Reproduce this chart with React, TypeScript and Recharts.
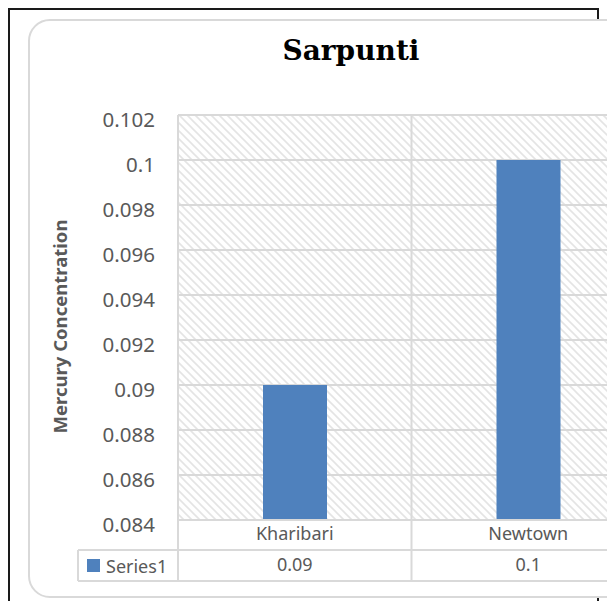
import { BarChart, Bar, XAxis, YAxis, CartesianGrid, Legend } from "recharts";

const categories = ["Kharibari", "Newtown"];
const series1 = [0.09, 0.1];
const yTicks = [0.084, 0.086, 0.088, 0.09, 0.092, 0.094, 0.096, 0.098, 0.1, 0.102];

const data = categories.map((name, i) => ({ name, Series1: series1[i] }));

const GRID = "#d9d9d9";
const TEXT = "#595959";
const BLUE = "#4f81bd";
const FONT = "'Noto Sans', sans-serif";

// layout, page pixels
const CHART_W = 700;
const CHART_H = 601;
const PLOT_LEFT = 178;
const PLOT_RIGHT = 645;
const PLOT_TOP = 115;
const PLOT_BOTTOM = 520;
const ROW1 = 30;
const ROW2 = 31;
const LEGEND_LEFT = 78;
const YAXIS_W = 60;

const fmtY = (v: number) => String(Number(v.toFixed(3)));

const YLabel = (props: any) => {
  const vb = props.viewBox || { x: PLOT_LEFT - YAXIS_W, y: PLOT_TOP, width: YAXIS_W, height: PLOT_BOTTOM - PLOT_TOP };
  const x = vb.x - 59;
  const y = vb.y + vb.height / 2 + 9;
  return (
    <text
      x={x}
      y={y}
      transform={`rotate(-90, ${x}, ${y})`}
      textAnchor="middle"
      dominantBaseline="central"
      fill={TEXT}
      fontFamily={FONT}
      fontWeight="bold"
      fontSize={18.5}
    >
      Mercury Concentration
    </text>
  );
};

const LegendCell = (props: any) => {
  const item = props.payload && props.payload[0];
  return (
    <div style={{ display: "flex", alignItems: "center", height: ROW2, paddingLeft: 9, fontFamily: FONT, fontSize: 18, color: TEXT }}>
      <span style={{ width: 13, height: 13, background: item ? item.color : BLUE, marginRight: 6 }} />
      <span>{item ? item.value : "Series1"}</span>
    </div>
  );
};

export default function App() {
  const catW = (PLOT_RIGHT - PLOT_LEFT) / categories.length;
  const tableBottom = PLOT_BOTTOM + ROW1 + ROW2;
  return (
    <div style={{ position: "absolute", left: 0, top: 0, width: 607, height: 601, overflow: "hidden", background: "#fff" }}>
      <div style={{ position: "absolute", left: 8, top: 8, width: 587, height: 640, border: "2px solid #1a1a1a" }} />
      <div
        style={{
          position: "absolute",
          left: 28,
          top: 19,
          width: 700,
          height: 575,
          border: `2px solid ${GRID}`,
          borderRadius: 22,
          background: "#fff",
        }}
      />
      <div style={{ position: "absolute", left: 0, top: 0 }}>
        <BarChart
          width={CHART_W}
          height={CHART_H}
          data={data}
          margin={{
            top: PLOT_TOP,
            right: CHART_W - PLOT_RIGHT,
            bottom: CHART_H - tableBottom,
            left: PLOT_LEFT - YAXIS_W,
          }}
        >
          <defs>
            <pattern id="hatch" patternUnits="userSpaceOnUse" width="8" height="8">
              <rect width="8" height="8" fill="#fff" />
              <path d="M-2,-2 L10,10 M-2,6 L2,10 M6,-2 L10,2" stroke="#e4e4e4" strokeWidth="1.6" />
            </pattern>
          </defs>
          <CartesianGrid
            fill="url(#hatch)"
            fillOpacity={1}
            stroke={GRID}
            strokeWidth={2}
            verticalCoordinatesGenerator={({ offset }: any) =>
              categories.map((_, i) => offset.left + (i * offset.width) / categories.length).concat(offset.left + offset.width)
            }
          />
          <XAxis
            xAxisId="cat"
            dataKey="name"
            height={ROW1}
            tickLine={false}
            tickSize={0}
            tickMargin={7}
            axisLine={{ stroke: GRID, strokeWidth: 2 }}
            tick={{ fill: TEXT, fontSize: 18, fontFamily: FONT }}
          />
          <XAxis
            xAxisId="val"
            dataKey="name"
            height={ROW2}
            tickLine={false}
            tickSize={0}
            tickMargin={8}
            axisLine={false}
            tickFormatter={(_: any, i: number) => String(series1[i])}
            tick={{ fill: TEXT, fontSize: 18, fontFamily: FONT }}
          />
          <YAxis
            width={YAXIS_W}
            domain={[yTicks[0], yTicks[yTicks.length - 1]]}
            ticks={yTicks}
            tickFormatter={fmtY}
            axisLine={false}
            tickLine={false}
            tickSize={0}
            tickMargin={23}
            interval={0}
            tick={{ fill: TEXT, fontSize: 20.5, fontFamily: FONT, dy: 5 }}
            label={YLabel}
          />
          <Legend
            layout="horizontal"
            verticalAlign="middle"
            align="center"
            content={LegendCell}
            wrapperStyle={{ position: "absolute", left: LEGEND_LEFT, top: PLOT_BOTTOM + ROW1, width: PLOT_LEFT - LEGEND_LEFT, height: ROW2 }}
          />
          <Bar xAxisId="cat" dataKey="Series1" fill={BLUE} barSize={64} isAnimationActive={false} />
        </BarChart>
      </div>
      <svg width={CHART_W} height={CHART_H} style={{ position: "absolute", left: 0, top: 0, pointerEvents: "none" }}>
        <text x={351} y={60} textAnchor="middle" fontFamily="'DejaVu Serif', serif" fontWeight="bold" fontSize={28} fill="#000">
          Sarpunti
        </text>
        <g stroke={GRID} strokeWidth={2}>
          <line x1={LEGEND_LEFT} y1={PLOT_BOTTOM + ROW1} x2={CHART_W} y2={PLOT_BOTTOM + ROW1} />
          <line x1={LEGEND_LEFT} y1={tableBottom} x2={CHART_W} y2={tableBottom} />
          <line x1={LEGEND_LEFT} y1={PLOT_BOTTOM + ROW1} x2={LEGEND_LEFT} y2={tableBottom} />
          {categories.map((_, i) => (
            <line key={i} x1={PLOT_LEFT + i * catW} y1={PLOT_BOTTOM} x2={PLOT_LEFT + i * catW} y2={tableBottom} />
          ))}
        </g>
      </svg>
    </div>
  );
}
